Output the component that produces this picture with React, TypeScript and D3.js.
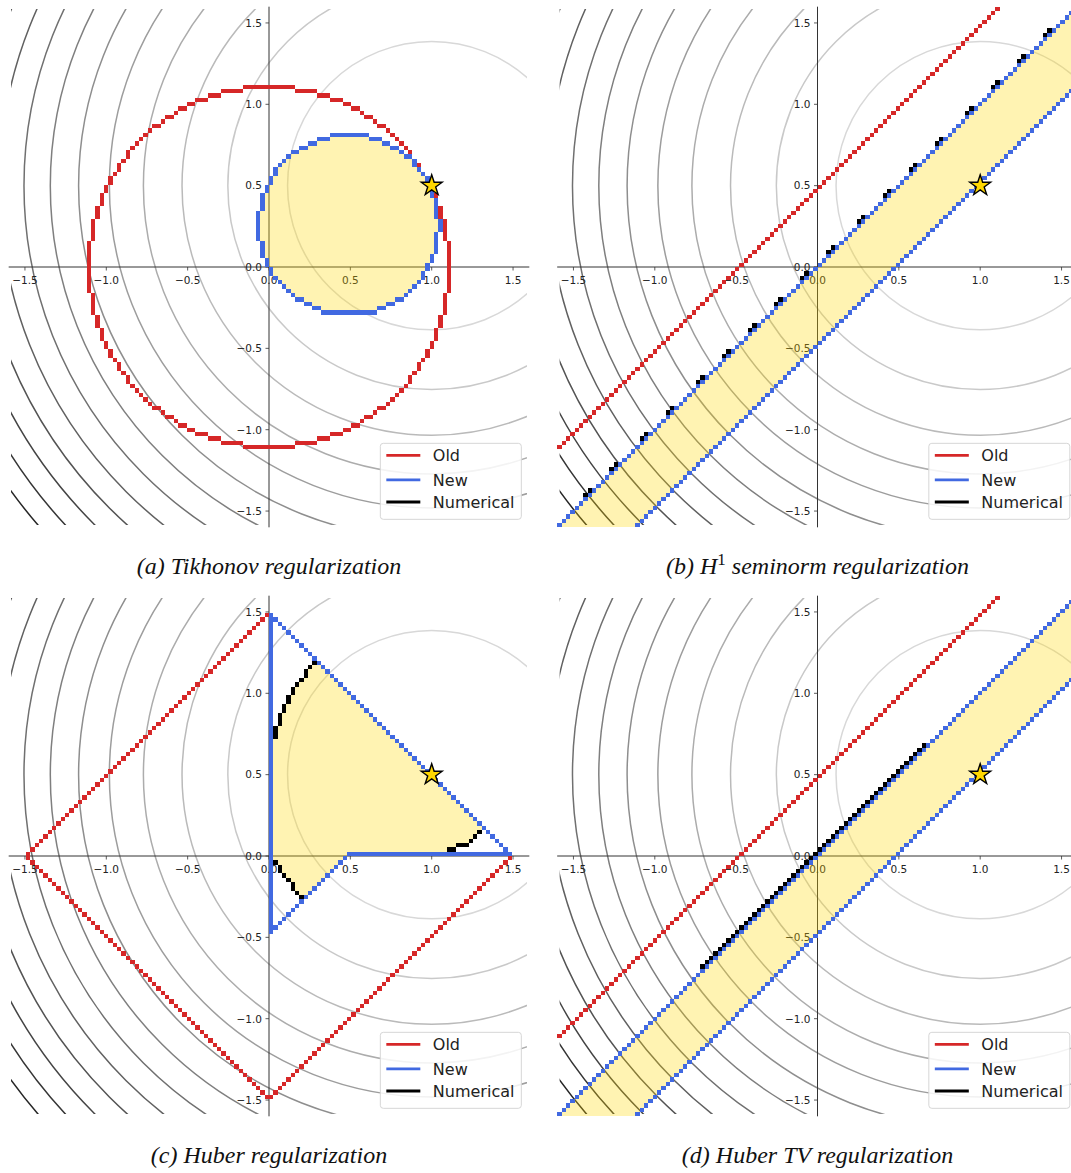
import React from 'react';
import * as d3 from 'd3';

// ---------- data ----------
const tickValues = [-1.5, -1.0, -0.5, 0.0, 0.5, 1.0, 1.5];
const axisDomain: [number, number] = [-1.6, 1.6];
const starPoint: [number, number] = [1.0, 0.5];
// squared-distance levels of the objective around the star
const contourLevels = [0.785, 1.57, 2.355, 3.14, 3.925, 4.71, 5.495, 6.28, 7.065, 7.85, 8.635, 9.42, 10.205];
const legendLabels = ['Old', 'New', 'Numerical'];
const captions = [
  { tag: '(a)', pre: 'Tikhonov regularization', sup: '', post: '' },
  { tag: '(b)', pre: 'H', sup: '1', post: ' seminorm regularization' },
  { tag: '(c)', pre: 'Huber regularization', sup: '', post: '' },
  { tag: '(d)', pre: 'Huber TV regularization', sup: '', post: '' },
];

// (a) Tikhonov
const tikhonovOld = { kind: 'disc', cx: 0.0, cy: 0.0, r: 1.12 };
const tikhonovNew = { kind: 'disc', cx: 0.49, cy: 0.26, r: 0.565 };
// (b) H1 seminorm: half-plane y <= x + 0.5 and band x-0.5 <= y <= x
const halfPlaneOld: [number, number][] = [[-6, -5.495], [6, 6.505], [6, -7], [-6, -7]];
const bandNew: [number, number][] = [[-6, -6.505], [6, 5.495], [6, 6.005], [-6, -5.995]];
const seminormBumpsX = [-1.45, -1.28, -1.1, -0.93, -0.75, -0.58, -0.42, -0.26, -0.1, 0.06, 0.24, 0.4, 0.56, 0.73, 0.9, 1.07, 1.24, 1.4];
// (c) Huber
const diamondOld: [number, number][] = [[-1.505, 0], [0, 1.505], [1.505, 0], [0, -1.505]];
const huberNew: [number, number][] = [[0, 1.505], [1.505, 0], [0.5, 0], [0, -0.505]];
const huberNumerical: [number, number][] = [
  [0, 0], [0, 0.67], [0.016, 0.742], [0.037, 0.8], [0.063, 0.865], [0.088, 0.926], [0.11, 0.977],
  [0.139, 1.029], [0.17, 1.07], [0.2, 1.095], [0.23, 1.14], [0.28, 1.225], [1.33, 0.175],
  [1.3, 0.139], [1.27, 0.108], [1.22, 0.067], [1.15, 0.04], [1.09, 0.025], [1.07, 0.0],
  [0.5, 0.0], [0.21, -0.295], [0.149, -0.209], [0.108, -0.157], [0.067, -0.106], [0.027, -0.045],
];
// (d) Huber TV: numerical band sticks out one cell on [-0.72, 0.68]
const huberTVNumericalRange = [-0.72, 0.68];

// ---------- raster helpers ----------
const N = 120;
const STEP = (axisDomain[1] - axisDomain[0]) / N;
const cellC = (i: number) => axisDomain[0] + STEP * (i + 0.5);

function contains(reg: any, x: number, y: number) {
  if (reg.kind === 'disc') return (x - reg.cx) ** 2 + (y - reg.cy) ** 2 <= reg.r * reg.r;
  return d3.polygonContains(reg.pts, [x, y]);
}
function rasterize(reg: any) {
  const m = new Uint8Array(N * N);
  for (let j = 0; j < N; j++) for (let i = 0; i < N; i++) m[j * N + i] = contains(reg, cellC(i), cellC(j)) ? 1 : 0;
  return m;
}
function boundary(m: Uint8Array) {
  const b = new Uint8Array(N * N);
  for (let j = 0; j < N; j++)
    for (let i = 0; i < N; i++) {
      const k = j * N + i;
      if (!m[k]) continue;
      if ((i > 0 && !m[k - 1]) || (i < N - 1 && !m[k + 1]) || (j > 0 && !m[k - N]) || (j < N - 1 && !m[k + N])) b[k] = 1;
    }
  return b;
}
function cellsPath(m: Uint8Array, xs: any, ys: any) {
  let d = '';
  for (let j = 0; j < N; j++) {
    let i = 0;
    while (i < N) {
      if (!m[j * N + i]) { i++; continue; }
      let e = i;
      while (e < N && m[j * N + e]) e++;
      const x0 = xs(axisDomain[0] + STEP * i), x1 = xs(axisDomain[0] + STEP * e);
      const y0 = ys(axisDomain[0] + STEP * (j + 1)), y1 = ys(axisDomain[0] + STEP * j);
      d += `M${x0.toFixed(2)},${y0.toFixed(2)}H${x1.toFixed(2)}V${y1.toFixed(2)}H${x0.toFixed(2)}Z`;
      i = e;
    }
  }
  return d;
}
function bandWithBumps(bx: number[]): [number, number][] {
  const pts: [number, number][] = [[-6, -6.505], [6, 5.495], [6, 6.005]];
  [...bx].sort((a, b) => b - a).forEach((b) => {
    pts.push([b + 0.05, b + 0.055], [b + 0.05, b + 0.08], [b, b + 0.03], [b, b + 0.005]);
  });
  pts.push([-6, -5.995]);
  return pts;
}
const bandTVNumerical: [number, number][] = [
  [-6, -6.505], [6, 5.495], [6, 6.005],
  [huberTVNumericalRange[1], huberTVNumericalRange[1] + 0.005],
  [huberTVNumericalRange[1], huberTVNumericalRange[1] + 0.03],
  [huberTVNumericalRange[0], huberTVNumericalRange[0] + 0.03],
  [huberTVNumericalRange[0], huberTVNumericalRange[0] + 0.005],
  [-6, -5.995],
];

const panels = [
  { ox: 269, oy: 267, old: tikhonovOld, nw: tikhonovNew, num: tikhonovNew },
  { ox: 817.5, oy: 267, old: { kind: 'poly', pts: halfPlaneOld }, nw: { kind: 'poly', pts: bandNew }, num: { kind: 'poly', pts: bandWithBumps(seminormBumpsX) } },
  { ox: 269, oy: 856, old: { kind: 'poly', pts: diamondOld }, nw: { kind: 'poly', pts: huberNew }, num: { kind: 'poly', pts: huberNumerical } },
  { ox: 817.5, oy: 856, old: { kind: 'poly', pts: halfPlaneOld }, nw: { kind: 'poly', pts: bandNew }, num: { kind: 'poly', pts: bandTVNumerical } },
];

const RED = '#d62728';
const BLUE = '#4169e1';
const PX_PER_UNIT = 162.7;
const grayScale = d3.scaleLinear<string>().domain([contourLevels[0], contourLevels[contourLevels.length - 1]]).range(['#d8d8d8', '#262626']);
const legendColors = [RED, BLUE, '#000000'];

function Panel({ p, idx }: { p: any; idx: number }) {
  const half = PX_PER_UNIT * 1.6;
  const xs = d3.scaleLinear().domain(axisDomain).range([p.ox - half, p.ox + half]);
  const ys = d3.scaleLinear().domain(axisDomain).range([p.oy + half, p.oy - half]);
  const numMask = rasterize(p.num);
  const yellow = cellsPath(numMask, xs, ys);
  const black = cellsPath(boundary(numMask), xs, ys);
  const red = cellsPath(boundary(rasterize(p.old)), xs, ys);
  const blue = cellsPath(boundary(rasterize(p.nw)), xs, ys);
  const clipId = `clip${idx}`;
  const cx = xs(starPoint[0]), cy = ys(starPoint[1]);
  const star = d3.symbol().type(d3.symbolStar).size(135)()!;
  const lgR = xs(axisDomain[1]) - 8, lgB = ys(axisDomain[0]) - 8;
  const lgW = 141, lgH = 76;
  const lgX = lgR - lgW, lgY = lgB - lgH;
  const lineYs = [12, 36.5, 58.7];
  return (
    <g>
      <defs>
        <clipPath id={clipId}>
          <rect x={xs(-1.585)} y={ys(1.585)} width={xs(1.585) - xs(-1.585)} height={ys(-1.585) - ys(1.585)} />
        </clipPath>
      </defs>
      <g clipPath={`url(#${clipId})`}>
        {contourLevels.map((lv, k) => (
          <circle key={k} cx={cx} cy={cy} r={xs(Math.sqrt(lv)) - xs(0)} fill="none" stroke={grayScale(lv)} strokeWidth={1.5} />
        ))}
      </g>
      {/* spines */}
      <line x1={xs(axisDomain[0])} x2={xs(axisDomain[1])} y1={ys(0)} y2={ys(0)} stroke="#333" strokeWidth={1} />
      <line x1={xs(0)} x2={xs(0)} y1={ys(axisDomain[0])} y2={ys(axisDomain[1])} stroke="#333" strokeWidth={1} />
      {tickValues.map((t) => (
        <g key={'x' + t}>
          <line x1={xs(t)} x2={xs(t)} y1={ys(0)} y2={ys(0) + 3.5} stroke="#333" strokeWidth={0.8} />
          <text x={xs(t)} y={ys(0) + 16.5} textAnchor="middle" fontFamily="DejaVu Sans" fontSize={10.5} fill="#222">
            {t.toFixed(1).replace('-', '\u2212')}
          </text>
          <line x1={xs(0) - 3.5} x2={xs(0)} y1={ys(t)} y2={ys(t)} stroke="#333" strokeWidth={0.8} />
          <text x={xs(0) - 7} y={ys(t) + 3.8} textAnchor="end" fontFamily="DejaVu Sans" fontSize={10.5} fill="#222">
            {t.toFixed(1).replace('-', '\u2212')}
          </text>
        </g>
      ))}
      <path d={yellow} fill="#ffd700" fillOpacity={0.3} shapeRendering="crispEdges" />
      <path d={black} fill="#000" shapeRendering="crispEdges" />
      <path d={red} fill={RED} shapeRendering="crispEdges" />
      <path d={blue} fill={BLUE} shapeRendering="crispEdges" />
      <path d={star} transform={`translate(${cx},${cy})`} fill="#ffd700" stroke="#000" strokeWidth={1.4} strokeLinejoin="miter" />
      <g>
        <rect x={lgX} y={lgY} width={lgW} height={lgH} rx={3} fill="#fff" fillOpacity={0.85} stroke="#d6d6d6" strokeWidth={1} />
        {legendLabels.map((lab, k) => (
          <g key={lab}>
            <line x1={lgX + 6} x2={lgX + 40} y1={lgY + lineYs[k]} y2={lgY + lineYs[k]} stroke={legendColors[k]} strokeWidth={2.8} />
            <text x={lgX + 52.5} y={lgY + lineYs[k] + 5.8} fontFamily="DejaVu Sans" fontSize={16} fill="#222">{lab}</text>
          </g>
        ))}
      </g>
    </g>
  );
}

export default function App() {
  return (
    <svg width={1071} height={1173} style={{ position: 'absolute', left: 0, top: 0, background: '#fff' }}>
      <rect width={1071} height={1173} fill="#fff" />
      {panels.map((p, i) => <Panel key={i} p={p} idx={i} />)}
      {captions.map((c, i) => {
        const p = panels[i];
        const by = p.oy + 306.5;
        return (
          <text key={i} x={p.ox} y={by} textAnchor="middle" fontFamily="Liberation Serif" fontStyle="italic" fontSize={24} fill="#111">
            <tspan>{c.tag + ' ' + c.pre}</tspan>
            {c.sup && <tspan fontStyle="normal" fontSize={17} dy={-9}>{c.sup}</tspan>}
            {c.post && <tspan dy={c.sup ? 9 : 0}>{c.post}</tspan>}
          </text>
        );
      })}
    </svg>
  );
}
